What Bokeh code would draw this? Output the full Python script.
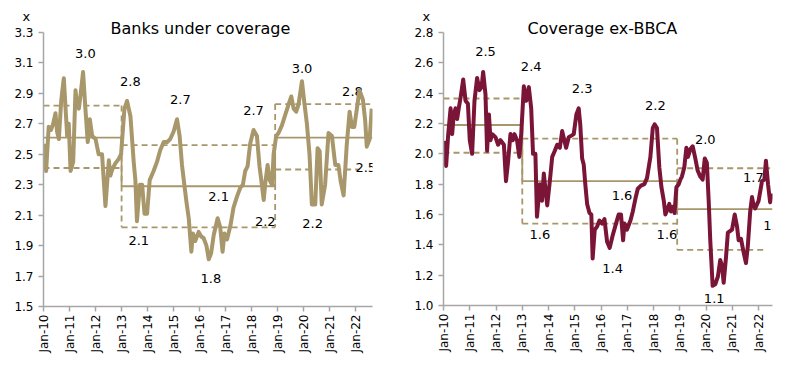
import math
from bokeh.plotting import figure
from bokeh.layouts import row
from bokeh.models import FixedTicker, Range1d, NumeralTickFormatter, Title
from bokeh.core.properties import value
from bokeh.embed import file_html
from bokeh.resources import INLINE

FONT = "DejaVu Sans"

# ---------------- data: Banks under coverage (P/B, x) ----------------
left_t = [2010.01, 2010.10, 2010.20, 2010.29, 2010.37, 2010.46, 2010.52, 2010.59, 2010.68, 2010.78,
          2010.91, 2010.97, 2011.04, 2011.14, 2011.23, 2011.29, 2011.36, 2011.43, 2011.52, 2011.61,
          2011.70, 2011.78, 2011.87, 2012.00, 2012.12, 2012.25, 2012.38, 2012.51, 2012.57, 2012.64,
          2012.76, 2012.89, 2012.98, 2013.11, 2013.21, 2013.34, 2013.47, 2013.53, 2013.59, 2013.70,
          2013.79, 2013.88, 2013.98, 2014.08, 2014.23, 2014.36, 2014.49, 2014.62, 2014.75, 2014.87,
          2015.00, 2015.13, 2015.23, 2015.32, 2015.39, 2015.49, 2015.58, 2015.68, 2015.74, 2015.83,
          2015.96, 2016.06, 2016.15, 2016.26, 2016.35, 2016.44, 2016.54, 2016.69, 2016.79, 2016.88,
          2016.95, 2017.05, 2017.18, 2017.30, 2017.43, 2017.56, 2017.66, 2017.75, 2017.84, 2017.94,
          2018.07, 2018.20, 2018.30, 2018.39, 2018.46, 2018.52, 2018.61, 2018.69, 2018.78, 2018.84,
          2018.94, 2019.03, 2019.16, 2019.29, 2019.42, 2019.52, 2019.61, 2019.71, 2019.80, 2019.93,
          2020.02, 2020.12, 2020.22, 2020.31, 2020.44, 2020.53, 2020.61, 2020.69, 2020.82, 2020.95,
          2021.08, 2021.21, 2021.33, 2021.42, 2021.53, 2021.65, 2021.76, 2021.85, 2021.94, 2022.04,
          2022.14, 2022.27, 2022.36, 2022.42, 2022.53, 2022.61]
left_v = [2.57, 2.39, 2.68, 2.66, 2.70, 2.77, 2.65, 2.60, 2.85, 3.00,
          2.62, 2.70, 2.39, 2.45, 2.92, 2.82, 2.80, 2.90, 3.04, 2.80,
          2.58, 2.73, 2.62, 2.60, 2.50, 2.50, 2.16, 2.46, 2.36, 2.40,
          2.44, 2.47, 2.50, 2.80, 2.85, 2.75, 2.44, 2.33, 2.06, 2.30,
          2.30, 2.11, 2.11, 2.33, 2.39, 2.45, 2.53, 2.58, 2.58, 2.60,
          2.65, 2.73, 2.62, 2.43, 2.33, 2.19, 2.08, 1.86, 1.98, 1.93,
          1.99, 1.96, 1.95, 1.90, 1.81, 1.85, 1.97, 2.08, 2.02, 1.86,
          1.98, 1.94, 2.03, 2.15, 2.22, 2.28, 2.30, 2.39, 2.42, 2.57,
          2.66, 2.62, 2.42, 2.30, 2.20, 2.31, 2.43, 2.33, 2.30, 2.50,
          2.62, 2.64, 2.69, 2.76, 2.83, 2.88, 2.80, 2.78, 2.83, 2.98,
          2.84, 2.70, 2.50, 2.17, 2.17, 2.54, 2.52, 2.17, 2.30, 2.64,
          2.62, 2.43, 2.43, 2.32, 2.23, 2.56, 2.78, 2.68, 2.68, 2.80,
          2.92, 2.86, 2.72, 2.55, 2.60, 2.80]
left_breaks = [2010.0, 2013.0, 2018.9]
left_mean = [2.61, 2.29, 2.61]
left_upper = [2.82, 2.56, 2.83]
left_lower = [2.41, 2.02, 2.40]
left_ends = {"mean": 2022.64, "upper": 2022.55, "lower": 2022.09}
left_lbl_t = [2011.61, 2013.34, 2015.26, 2018.07, 2019.93, 2021.87, 2013.66, 2016.73, 2016.43, 2018.52, 2020.34, 2022.38]
left_lbl_v = [3.16, 2.98, 2.857, 2.79, 3.065, 2.912, 1.936, 2.22, 1.683, 2.06, 2.045, 2.414]
left_lbl_txt = ["3.0", "2.8", "2.7", "2.7", "3.0", "2.8", "2.1", "2.1", "1.8", "2.2", "2.2", "2.5"]
left_yticks = [1.5, 1.7, 1.9, 2.1, 2.3, 2.5, 2.7, 2.9, 3.1, 3.3]

# ---------------- data: Coverage ex-BBCA ----------------
right_t = [2010.01, 2010.10, 2010.18, 2010.27, 2010.33, 2010.39, 2010.46, 2010.52, 2010.58, 2010.65,
           2010.75, 2010.84, 2010.93, 2011.00, 2011.09, 2011.18, 2011.28, 2011.37, 2011.45, 2011.51,
           2011.60, 2011.66, 2011.73, 2011.79, 2011.85, 2011.98, 2012.08, 2012.17, 2012.30, 2012.38,
           2012.46, 2012.55, 2012.64, 2012.70, 2012.80, 2012.89, 2012.96, 2013.06, 2013.15, 2013.25,
           2013.34, 2013.41, 2013.50, 2013.56, 2013.67, 2013.75, 2013.82, 2013.95, 2014.05, 2014.14,
           2014.24, 2014.33, 2014.43, 2014.52, 2014.60, 2014.67, 2014.77, 2014.87, 2014.96, 2015.06,
           2015.15, 2015.21, 2015.28, 2015.34, 2015.40, 2015.47, 2015.56, 2015.63, 2015.68, 2015.76,
           2015.85, 2015.94, 2016.04, 2016.13, 2016.23, 2016.33, 2016.44, 2016.57, 2016.67, 2016.76,
           2016.84, 2016.89, 2016.99, 2017.12, 2017.21, 2017.31, 2017.40, 2017.52, 2017.65, 2017.75,
           2017.88, 2017.97, 2018.04, 2018.13, 2018.22, 2018.30, 2018.39, 2018.45, 2018.52, 2018.60,
           2018.66, 2018.74, 2018.80, 2018.87, 2018.96, 2019.02, 2019.08, 2019.17, 2019.25, 2019.31,
           2019.40, 2019.49, 2019.59, 2019.68, 2019.78, 2019.87, 2019.95, 2020.03, 2020.10, 2020.16,
           2020.25, 2020.35, 2020.45, 2020.54, 2020.61, 2020.67, 2020.76, 2020.83, 2020.99, 2021.09,
           2021.18, 2021.24, 2021.33, 2021.43, 2021.52, 2021.59, 2021.68, 2021.75, 2021.81, 2021.87,
           2022.00, 2022.13, 2022.22, 2022.28, 2022.36, 2022.44, 2022.51]
right_v = [2.085, 1.92, 2.13, 2.30, 2.13, 2.26, 2.30, 2.23, 2.30, 2.37,
           2.49, 2.35, 2.33, 2.09, 2.00, 2.35, 2.50, 2.42, 2.44, 2.54,
           2.39, 2.02, 2.26, 2.09, 2.13, 2.11, 2.06, 2.09, 2.06, 1.82,
           1.95, 2.13, 2.09, 2.13, 2.09, 1.98, 2.13, 2.445, 2.35, 2.44,
           2.30, 2.00, 2.00, 1.585, 1.80, 1.69, 1.87, 1.66, 1.82, 1.98,
           2.02, 2.06, 2.04, 2.15, 2.09, 2.04, 2.11, 2.12, 2.13, 2.26,
           2.30, 2.19, 1.97, 1.93, 1.80, 1.67, 1.61, 1.60, 1.31, 1.50,
           1.52, 1.56, 1.54, 1.57, 1.42, 1.38, 1.46, 1.54, 1.60, 1.60,
           1.43, 1.54, 1.50, 1.56, 1.62, 1.705, 1.77, 1.79, 1.80, 1.84,
           1.98, 2.17, 2.195, 2.17, 1.91, 1.78, 1.69, 1.60, 1.63, 1.67,
           1.62, 1.65, 1.61, 1.78, 1.80, 1.83, 1.85, 1.91, 2.04, 1.98,
           2.03, 2.05, 1.97, 1.89, 1.85, 1.83, 1.97, 1.94, 1.69, 1.43,
           1.13, 1.14, 1.19, 1.30, 1.26, 1.15, 1.32, 1.48, 1.50, 1.60,
           1.52, 1.43, 1.44, 1.35, 1.28, 1.39, 1.62, 1.715, 1.66, 1.64,
           1.69, 1.82, 1.83, 1.955, 1.80, 1.68, 1.74]
right_breaks = [2010.0, 2013.0, 2018.9]
right_mean = [2.19, 1.82, 1.635]
right_upper = [2.365, 2.10, 1.905]
right_lower = [2.007, 1.54, 1.367]
right_ends = {"mean": 2022.53, "upper": 2022.44, "lower": 2022.25}
right_lbl_t = [2011.60, 2013.34, 2015.28, 2018.07, 2019.97, 2021.80, 2013.67, 2016.80, 2018.51, 2016.44, 2020.31, 2022.57]
right_lbl_v = [2.674, 2.576, 2.43, 2.32, 2.097, 1.846, 1.465, 1.726, 1.465, 1.247, 1.045, 1.53]
right_lbl_txt = ["2.5", "2.4", "2.3", "2.2", "2.0", "1.7", "1.6", "1.6", "1.6", "1.4", "1.1", "1.4"]
right_yticks = [1.0, 1.2, 1.4, 1.6, 1.8, 2.0, 2.2, 2.4, 2.6, 2.8]

x_years = list(range(2010, 2023))
x_labels = ["Jan-%02d" % (y - 2000) for y in x_years]

GOLD = "#A8976A"
MAROON = "#7A1538"
AXIS = "#A6A6A6"


def step_path(breaks, vals, end):
    xs, ys = [], []
    for i, v in enumerate(vals):
        x0 = breaks[i]
        x1 = breaks[i + 1] if i + 1 < len(breaks) else end
        xs += [x0, x1]
        ys += [v, v]
    return xs, ys


def make_chart(title, t, v, color, yticks, x_end, breaks, mean, upper, lower, ends,
               lbl_t, lbl_v, lbl_txt, title_offset, border_right, border_top, height):
    p = figure(width=400, height=height, x_range=Range1d(2010.0, x_end),
               y_range=Range1d(yticks[0], yticks[-1]),
               output_backend="svg", toolbar_location=None,
               min_border_left=43, min_border_right=border_right,
               min_border_top=border_top, min_border_bottom=57)
    p.outline_line_color = None
    p.xgrid.visible = False
    p.ygrid.visible = False

    # y axis
    p.yaxis.ticker = FixedTicker(ticks=yticks)
    p.yaxis.formatter = NumeralTickFormatter(format="0.0")
    # x axis
    p.xaxis.ticker = FixedTicker(ticks=x_years)
    p.xaxis.major_label_overrides = {y: l for y, l in zip(x_years, x_labels)}
    p.xaxis.major_label_orientation = math.pi / 2
    for ax in (p.xaxis, p.yaxis):
        ax.axis_line_color = AXIS
        ax.axis_line_width = 1.5
        ax.major_tick_line_color = AXIS
        ax.major_tick_line_width = 1.5
        ax.major_tick_in = 0
        ax.major_tick_out = 5
        ax.minor_tick_line_color = None
        ax.major_label_text_font = FONT
        ax.major_label_text_font_size = "12px"
        ax.major_label_text_color = "#000000"
    p.xaxis.major_label_standoff = 3
    p.yaxis.major_label_standoff = 5

    # mean (solid step)
    xs, ys = step_path(breaks, mean, ends["mean"])
    p.line(xs, ys, line_color=GOLD, line_width=1.8)
    # bands (dashed)
    for vals, key in ((upper, "upper"), (lower, "lower")):
        for i, val in enumerate(vals):
            x0 = breaks[i]
            x1 = breaks[i + 1] if i + 1 < len(breaks) else ends[key]
            p.line([x0, x1], [val, val], line_color=GOLD, line_width=1.8, line_dash="6 4")
    for i in range(1, len(breaks)):
        top = max(upper[i - 1], upper[i])
        bot = min(lower[i - 1], lower[i])
        p.line([breaks[i], breaks[i]], [top, bot], line_color=GOLD, line_width=1.8, line_dash="6 4")

    # value labels (under the line)
    p.text(x=lbl_t, y=lbl_v, text=lbl_txt, text_font=value(FONT), text_font_size="13px",
           text_align="center", text_baseline="middle", text_color="#000000")

    # main series
    p.line(t, v, line_color=color, line_width=4, line_join="round")

    # title (closest to frame) and unit marker above it
    p.add_layout(Title(text=title, align="left", offset=title_offset, standoff=-11,
                       text_font=FONT, text_font_size="16px", text_font_style="normal",
                       text_color="#000000", vertical_align="bottom"), "above")
    p.add_layout(Title(text="x", align="left", offset=-21, standoff=-3,
                       text_font=FONT, text_font_size="13px", text_font_style="normal",
                       text_color="#000000", vertical_align="bottom"), "above")
    return p


p1 = make_chart("Banks under coverage", left_t, left_v, GOLD, left_yticks, 2022.64,
                left_breaks, left_mean, left_upper, left_lower, left_ends,
                left_lbl_t, left_lbl_v, left_lbl_txt, 67, 28, 32, 363)
p2 = make_chart("Coverage ex-BBCA", right_t, right_v, MAROON, right_yticks, 2022.53,
                right_breaks, right_mean, right_upper, right_lower, right_ends,
                right_lbl_t, right_lbl_v, right_lbl_txt, 84, 28, 31, 362)

layout = row(p1, p2)
open("out.html", "w").write(file_html(layout, INLINE))
